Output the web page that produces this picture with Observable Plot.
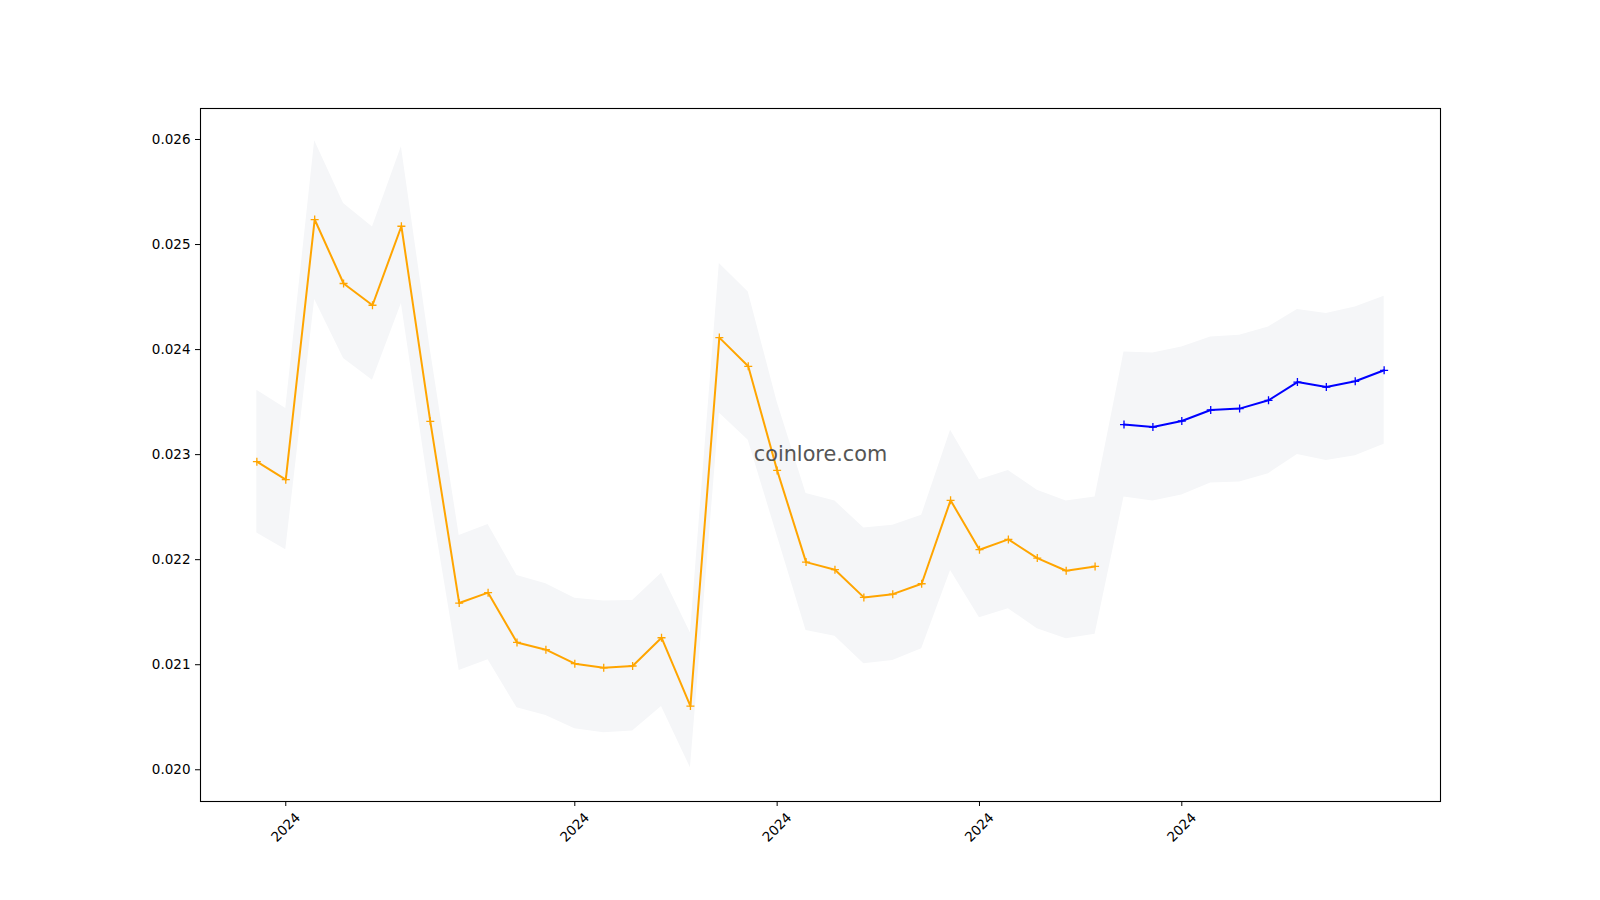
<!DOCTYPE html>
<html>
<head>
<meta charset="utf-8">
<script src="https://cdn.jsdelivr.net/npm/d3@7"></script>
<script src="https://cdn.jsdelivr.net/npm/@observablehq/plot@0.6"></script>
<style>
  html, body { margin: 0; padding: 0; background: white; }
  #chart svg { display: block; }
</style>
</head>
<body>
<div id="chart"></div>
<script>
// ---- data ----
const dates = [
  "2024-01-21","2024-01-22","2024-01-23","2024-01-24","2024-01-25","2024-01-26","2024-01-27","2024-01-28",
  "2024-01-29","2024-01-30","2024-01-31","2024-02-01","2024-02-02","2024-02-03","2024-02-04","2024-02-05",
  "2024-02-06","2024-02-07","2024-02-08","2024-02-09","2024-02-10","2024-02-11","2024-02-12","2024-02-13",
  "2024-02-14","2024-02-15","2024-02-16","2024-02-17","2024-02-18","2024-02-19","2024-02-20","2024-02-21",
  "2024-02-22","2024-02-23","2024-02-24","2024-02-25","2024-02-26","2024-02-27","2024-02-28","2024-02-29"
];
const actualPrice = [
  0.022933, 0.022762, 0.025238, 0.024629, 0.024422, 0.025174, 0.023317, 0.021587, 0.021686, 0.021212,
  0.021143, 0.021010, 0.020971, 0.020988, 0.021257, 0.020606, 0.024114, 0.023841, 0.022850, 0.021977,
  0.021905, 0.021641, 0.021672, 0.021771, 0.022565, 0.022095, 0.022193, 0.022015, 0.021895, 0.021936
];
const forecastPrice = [
  0.023286, 0.023263, 0.023320, 0.023425, 0.023438, 0.023517, 0.023691, 0.023644, 0.023698, 0.023803
];
const bandUpper = [
  0.023612, 0.023438, 0.025987, 0.025390, 0.025168, 0.025930, 0.024000, 0.022231, 0.022336, 0.021850,
  0.021771, 0.021634, 0.021606, 0.021612, 0.021872, 0.021301, 0.024819, 0.024549, 0.023500, 0.022629,
  0.022558, 0.022301, 0.022327, 0.022422, 0.023231, 0.022762, 0.022850, 0.022660, 0.022558, 0.022596,
  0.023977, 0.023968, 0.024025, 0.024120, 0.024136, 0.024215, 0.024381, 0.024343, 0.024406, 0.024508
];
const bandLower = [
  0.022253, 0.022095, 0.024476, 0.023914, 0.023708, 0.024438, 0.022600, 0.020946, 0.021048, 0.020590,
  0.020517, 0.020390, 0.020352, 0.020368, 0.020603, 0.020019, 0.023396, 0.023136, 0.022230, 0.021327,
  0.021270, 0.021010, 0.021041, 0.021152, 0.021898, 0.021448, 0.021533, 0.021343, 0.021248, 0.021289,
  0.022596, 0.022558, 0.022615, 0.022730, 0.022740, 0.022819, 0.023001, 0.022945, 0.022990, 0.023098
];
const yTicks = [0.020, 0.021, 0.022, 0.023, 0.024, 0.025, 0.026];
const xTickDates = ["2024-01-22", "2024-02-01", "2024-02-08", "2024-02-15", "2024-02-22"];
const xTickLabels = ["2024", "2024", "2024", "2024", "2024"];
const watermark = "coinlore.com";

// ---- build ----
const parse = s => new Date(s + "T00:00:00Z");
const D = dates.map(parse);
const nA = actualPrice.length;
const actual = actualPrice.map((v, i) => ({date: D[i], value: v}));
const forecast = forecastPrice.map((v, i) => ({date: D[nA + i], value: v}));
const band = D.map((d, i) => ({date: d, lo: bandLower[i], hi: bandUpper[i]}));
const ticks = xTickDates.map((s, i) => ({date: parse(s), label: xTickLabels[i]}));

const pad = 0.05 * (D[D.length - 1] - D[0]);
const xDomain = [new Date(+D[0] - pad), new Date(+D[D.length - 1] + pad)];

const plusSymbol = {
  draw(context, size) {
    const r = Math.sqrt(size / Math.PI);
    context.moveTo(-r, 0); context.lineTo(r, 0);
    context.moveTo(0, -r); context.lineTo(0, r);
  }
};

const chart = Plot.plot({
  width: 1600,
  height: 900,
  marginLeft: 200,
  marginRight: 160,
  marginTop: 108,
  marginBottom: 99,
  style: {fontFamily: "DejaVu Sans", fontSize: "13.5px", background: "white", color: "black"},
  x: {type: "utc", domain: xDomain},
  y: {domain: [0.019698, 0.026295]},
  marks: [
    Plot.areaY(band, {x: "date", y1: "lo", y2: "hi", fill: "#f5f6f8"}),
    Plot.line(actual, {x: "date", y: "value", stroke: "#FFA500", strokeWidth: 2}),
    Plot.dot(actual, {x: "date", y: "value", symbol: plusSymbol, r: 4, stroke: "#FFA500", strokeWidth: 1.3, fill: "none"}),
    Plot.line(forecast, {x: "date", y: "value", stroke: "#0000FF", strokeWidth: 2}),
    Plot.dot(forecast, {x: "date", y: "value", symbol: plusSymbol, r: 4, stroke: "#0000FF", strokeWidth: 1.3, fill: "none"}),
    Plot.text([watermark], {frameAnchor: "middle", text: d => d, fontSize: 20.8, fill: "#555555", dy: -1}),
    Plot.frame({stroke: "black", strokeWidth: 1.1}),
    Plot.axisY({ticks: yTicks, tickFormat: d3.format(".3f"), tickSize: 5, tickPadding: 5, fontSize: 13.5, label: null}),
    Plot.axisX({ticks: ticks.map(t => t.date), tickSize: 5, fill: "none", label: null}),
    Plot.text(ticks, {x: "date", text: "label", frameAnchor: "bottom", dy: 26, rotate: -45,
      textAnchor: "middle", lineAnchor: "middle", fontSize: 13.5, fill: "black"})
  ]
});
document.getElementById("chart").append(chart);
</script>
</body>
</html>
